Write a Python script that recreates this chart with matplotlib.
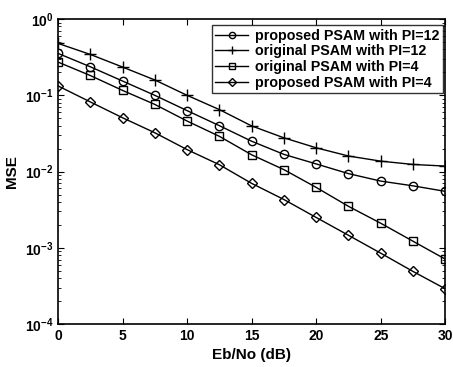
import matplotlib
matplotlib.use("Agg")
import matplotlib.pyplot as plt
from matplotlib.ticker import LogLocator, NullFormatter

plt.rcParams['font.family'] = ['Liberation Sans', 'DejaVu Sans']
plt.rcParams['font.weight'] = 'bold'

ebno = [0, 2.5, 5, 7.5, 10, 12.5, 15, 17.5, 20, 22.5, 25, 27.5, 30]

prop_pi12 = [0.355, 0.237, 0.154, 0.100, 0.063, 0.040, 0.025, 0.0168,
             0.0126, 0.0094, 0.0075, 0.0065, 0.0055]
orig_pi12 = [0.48, 0.344, 0.235, 0.159, 0.100, 0.065, 0.0397, 0.0277,
             0.0205, 0.0160, 0.0137, 0.0124, 0.0118]
orig_pi4 = [0.273, 0.182, 0.116, 0.076, 0.046, 0.029, 0.0166, 0.0106,
            0.0062, 0.0035, 0.0021, 0.00122, 0.00071]
prop_pi4 = [0.133, 0.082, 0.0508, 0.0323, 0.0194, 0.0123, 0.0070, 0.0043,
            0.0025, 0.00146, 0.00085, 0.00049, 0.00029]

fig = plt.figure(figsize=(4.53, 3.67), dpi=100)
ax = fig.add_axes([0.128, 0.117, 0.855, 0.831])

style = dict(color='k', linewidth=1.0, markersize=6, markerfacecolor='none',
             markeredgewidth=1.0)
ax.semilogy(ebno, prop_pi12, marker='o', label='proposed PSAM with PI=12', **style)
ax.semilogy(ebno, orig_pi12, marker='+', label='original PSAM with PI=12',
            **dict(style, markersize=8))
ax.semilogy(ebno, orig_pi4, marker='s', label='original PSAM with PI=4', **style)
ax.semilogy(ebno, prop_pi4, marker='D', label='proposed PSAM with PI=4',
            **dict(style, markersize=5))

ax.set_xlim(0, 30)
ax.set_ylim(1e-4, 1)
ax.set_xticks([0, 5, 10, 15, 20, 25, 30])
ax.yaxis.set_major_locator(LogLocator(base=10, numticks=10))
ax.yaxis.set_minor_locator(LogLocator(base=10, subs=range(2, 10), numticks=10))
ax.yaxis.set_minor_formatter(NullFormatter())
ax.tick_params(which='both', direction='in', top=True, right=True, labelsize=10)
ax.tick_params(which='major', length=4)
ax.tick_params(which='minor', length=2)
for s in ax.spines.values():
    s.set_linewidth(1.2)

ax.set_xlabel('Eb/No (dB)', fontsize=11, fontweight='bold')
ax.set_ylabel('MSE', fontsize=11, fontweight='bold')

leg = ax.legend(loc='upper right', bbox_to_anchor=(0.995, 0.98), fontsize=10.3,
                frameon=True, fancybox=False, edgecolor='k', handlelength=2.3,
                borderpad=0.25, labelspacing=0.12, handletextpad=0.5,
                borderaxespad=0.0, markerscale=0.75)
leg.get_frame().set_linewidth(1.0)

fig.savefig('out.png', dpi=100)
